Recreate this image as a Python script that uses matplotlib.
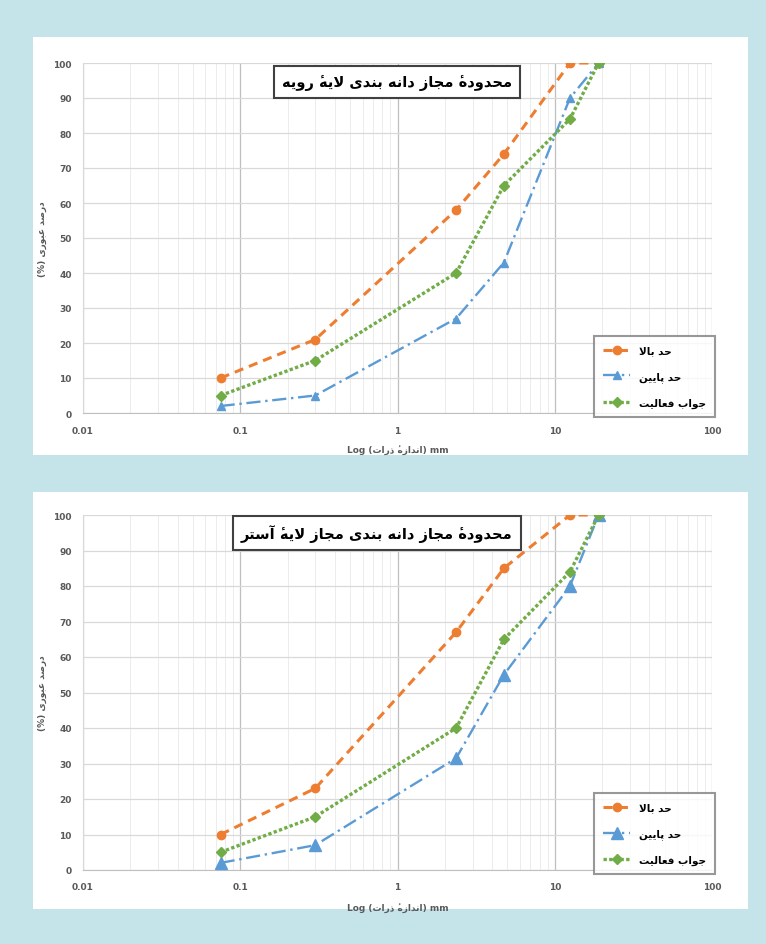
import matplotlib
matplotlib.use("Agg")
import matplotlib.pyplot as plt
from matplotlib.patches import Rectangle
from matplotlib.ticker import FixedLocator, FixedFormatter, LogLocator, NullFormatter

# ─── data ─────────────────────────────────────
sieve_mm = [0.075, 0.3, 2.36, 4.75, 12.5, 19]

top_title = "محدودهٔ مجاز دانه بندی لایهٔ رویه"
top_upper = [10, 21, 58, 74, 100, 100]
top_lower = [2, 5, 27, 43, 90, 100]
top_answer = [5, 15, 40, 65, 84, 100]

bot_title = "محدودهٔ مجاز دانه بندی مجاز لایهٔ آستر"
bot_upper = [10, 23, 67, 85, 100, 100]
bot_lower = [2, 7, 31.5, 55, 80, 100]
bot_answer = [5, 15, 40, 65, 84, 100]

series_names = ["حد بالا", "حد پایین", "جواب فعالیت"]
x_ticks = [0.01, 0.1, 1, 10, 100]
x_tick_labels = ["0.01", "0.1", "1", "10", "100"]
y_ticks = list(range(0, 101, 10))
y_label = "درصد عبوری (%)"
x_label_word = "اندازهٔ ذرات"

# ─── tiny arabic/persian shaping (matplotlib has no text shaping) ───
FORMS = {
    'ا': ('\uFE8D', '\uFE8E'),
    'آ': ('\uFE81', '\uFE82'),
    'ب': ('\uFE8F', '\uFE90', '\uFE91', '\uFE92'),
    'پ': ('\uFB56', '\uFB57', '\uFB58', '\uFB59'),
    'ت': ('\uFE95', '\uFE96', '\uFE97', '\uFE98'),
    'ج': ('\uFE9D', '\uFE9E', '\uFE9F', '\uFEA0'),
    'ح': ('\uFEA1', '\uFEA2', '\uFEA3', '\uFEA4'),
    'د': ('\uFEA9', '\uFEAA'),
    'ذ': ('\uFEAB', '\uFEAC'),
    'ر': ('\uFEAD', '\uFEAE'),
    'ز': ('\uFEAF', '\uFEB0'),
    'س': ('\uFEB1', '\uFEB2', '\uFEB3', '\uFEB4'),
    'ص': ('\uFEB9', '\uFEBA', '\uFEBB', '\uFEBC'),
    'ع': ('\uFEC9', '\uFECA', '\uFECB', '\uFECC'),
    'ف': ('\uFED1', '\uFED2', '\uFED3', '\uFED4'),
    'ل': ('\uFEDD', '\uFEDE', '\uFEDF', '\uFEE0'),
    'م': ('\uFEE1', '\uFEE2', '\uFEE3', '\uFEE4'),
    'ن': ('\uFEE5', '\uFEE6', '\uFEE7', '\uFEE8'),
    'ه': ('\uFEE9', '\uFEEA', '\uFEEB', '\uFEEC'),
    'و': ('\uFEED', '\uFEEE'),
    'ی': ('\uFBFC', '\uFBFD', '\uFBFE', '\uFBFF'),
}
LAM_ALEF = {'ا': ('\uFEFB', '\uFEFC'), 'آ': ('\uFEF5', '\uFEF6')}
MARKS = {'\u0654'}
MIRROR = {'(': ')', ')': '('}


def fa(text):
    """Shape a right-to-left string and return it in visual (left-to-right) order."""
    letters = [c for c in text]
    clusters = []
    i = 0
    while i < len(letters):
        c = letters[i]
        if c in MARKS and clusters:
            # the mark glyph draws to the right of the pen, so put it before its base
            clusters[-1] = c + clusters[-1]
            i += 1
            continue
        prev = letters[i - 1] if i > 0 else ''
        nxt = letters[i + 1] if i + 1 < len(letters) else ''
        joins_prev = c in FORMS and len(FORMS.get(prev, ())) == 4
        if c == 'ل' and nxt in LAM_ALEF:
            clusters.append(LAM_ALEF[nxt][1 if joins_prev else 0])
            i += 2
            continue
        if c in FORMS:
            f = FORMS[c]
            joins_next = len(f) == 4 and nxt in FORMS
            if joins_prev and joins_next:
                clusters.append(f[3])
            elif joins_next:
                clusters.append(f[2])
            elif joins_prev:
                clusters.append(f[1])
            else:
                clusters.append(f[0])
        else:
            clusters.append(MIRROR.get(c, c))
        i += 1
    return ''.join(reversed(clusters))


plt.rcParams['font.family'] = ['DejaVu Sans']

ORANGE = '#ED7D31'
BLUE = '#5B9BD5'
GREEN = '#70AD47'
TXT = '#595959'

fig = plt.figure(figsize=(7.66, 9.45), dpi=100)
fig.patch.set_facecolor('#c4e4ea')
W, H = 766, 945

# white panels behind each chart
for y0, y1 in [(38, 456), (493, 910)]:
    fig.add_artist(Rectangle((33 / W, 1 - y1 / H), (748 - 33) / W, (y1 - y0) / H,
                             transform=fig.transFigure, facecolor='white',
                             edgecolor='none', zorder=0))


def draw(rect, title, title_xy, upper, lower, answer, tri_size):
    ax = fig.add_axes(rect)
    ax.set_facecolor('white')
    ax.set_xscale('log')
    ax.set_xlim(0.01, 100)
    ax.set_ylim(0, 100)

    ax.xaxis.set_major_locator(FixedLocator(x_ticks))
    ax.xaxis.set_major_formatter(FixedFormatter(x_tick_labels))
    ax.xaxis.set_minor_locator(LogLocator(base=10, subs=range(2, 10)))
    ax.xaxis.set_minor_formatter(NullFormatter())
    ax.set_yticks(y_ticks)

    ax.grid(True, which='major', axis='y', color='#d9d9d9', lw=0.9)
    ax.grid(True, which='major', axis='x', color='#bfbfbf', lw=0.9)
    ax.grid(True, which='minor', axis='x', color='#ececec', lw=0.7)
    ax.set_axisbelow(True)

    for s in ['top', 'right']:
        ax.spines[s].set_visible(False)
    ax.spines['left'].set_color('#d9d9d9')
    ax.spines['bottom'].set_color('#bfbfbf')

    ax.tick_params(which='both', length=0)
    ax.tick_params(axis='x', pad=9, labelsize=6.5, labelcolor=TXT)
    ax.tick_params(axis='y', pad=8, labelsize=6.5, labelcolor=TXT)
    for lab in ax.get_xticklabels() + ax.get_yticklabels():
        lab.set_fontweight('bold')

    ax.plot(sieve_mm, upper, color=ORANGE, lw=2.2, dashes=(3, 2),
            marker='o', ms=6, label=fa(series_names[0]), zorder=3)
    ax.plot(sieve_mm, lower, color=BLUE, lw=1.7, dashes=(6, 2, 1, 2),
            marker='^', ms=tri_size, label=fa(series_names[1]), zorder=3)
    ax.plot(sieve_mm, answer, color=GREEN, lw=2.4, dashes=(1, 0.7),
            marker='D', ms=5, label=fa(series_names[2]), zorder=4)

    ax.set_ylabel(fa(y_label), fontsize=6.5, fontweight='bold', color=TXT)
    ax.yaxis.set_label_coords(-0.057, 0.5)
    ax.set_xlabel("Log (" + fa(x_label_word) + ") mm", fontsize=6.5,
                  fontweight='bold', color=TXT)
    ax.xaxis.set_label_coords(0.5, -0.09)

    ax.text(title_xy[0], title_xy[1], fa(title), transform=ax.transAxes,
            ha='center', va='center', fontsize=10.5, fontweight='bold', color='black',
            bbox=dict(boxstyle='square,pad=0.55', fc='white', ec='#404040', lw=1.5),
            zorder=6)

    leg = ax.legend(loc='lower right', bbox_to_anchor=(1.005, -0.012),
                    fontsize=7.5, frameon=True, fancybox=False, borderpad=0.9,
                    labelspacing=1.5, handlelength=2.6, handletextpad=0.8,
                    borderaxespad=0)
    leg.get_frame().set_edgecolor('#7f7f7f')
    leg.get_frame().set_linewidth(1.5)
    for t in leg.get_texts():
        t.set_fontweight('bold')
    leg.set_zorder(6)
    return ax


draw([83 / W, 1 - 414 / H, 629 / W, 350 / H], top_title, (0.499, 0.946),
     top_upper, top_lower, top_answer, 6)
draw([83 / W, 1 - 871 / H, 629 / W, 355 / H], bot_title, (0.467, 0.949),
     bot_upper, bot_lower, bot_answer, 8)

fig.savefig('out.png', dpi=100)
plt.close(fig)
